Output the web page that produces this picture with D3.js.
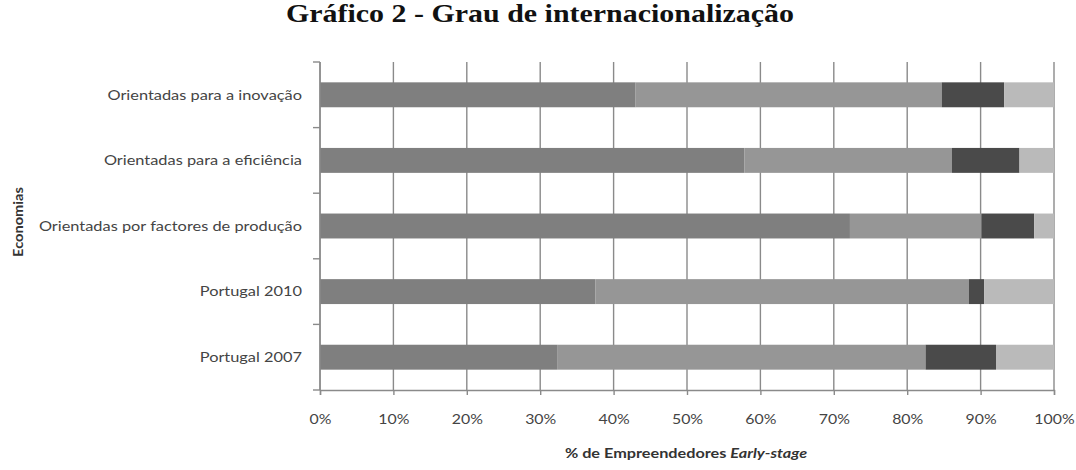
<!DOCTYPE html>
<meta charset="utf-8">
<style>
  body { margin: 0; background: #fff; }
  text { font-family: Lato, "Open Sans", sans-serif; fill: #333; }
</style>
<script src="https://d3js.org/d3.v7.min.js"></script>
<body>
<div id="chart"></div>
<script>

var categories = ["Orientadas para a inovação", "Orientadas para a eficiência",
                  "Orientadas por factores de produção", "Portugal 2010", "Portugal 2007"];

// shares of early-stage entrepreneurs, by degree of internationalisation
var seriesNames = ["s1", "s2", "s3", "s4"];
var s1 = [43.0, 57.8, 72.2, 37.5, 32.3];
var s2 = [41.7, 28.3, 17.9, 50.9, 50.2];
var s3 = [8.5, 9.2, 7.2, 2.1, 9.6];
var s4 = [6.8, 4.7, 2.7, 9.5, 7.9];

var xTicks = [0, 10, 20, 30, 40, 50, 60, 70, 80, 90, 100];

var width = 1076,
    height = 470,
    margin = { top: 62, right: 22, bottom: 80, left: 320 };

// the original text is a bit wider than Lato, stretch it
var stretch = 1.17;

var svg = d3.select("#chart")
  .append("svg")
    .attr("width", width)
    .attr("height", height);

var data = categories.map(function(c, i) {
  return { name: c, s1: s1[i], s2: s2[i], s3: s3[i], s4: s4[i] };
});

var stack = d3.stack().keys(seriesNames);
var layers = stack(data);

var x = d3.scaleLinear()
  .domain([0, 100])
  .range([margin.left, width - margin.right]);

var y = d3.scaleBand()
  .domain(categories)
  .range([margin.top, height - margin.bottom])
  .paddingInner(0.62)
  .paddingOuter(0.31);

var color = d3.scaleOrdinal()
  .domain(seriesNames)
  .range(["#7f7f7f", "#969696", "#4a4a4a", "#bababa"]);

// title
svg.append("text")
  .attr("x", 540)
  .attr("y", 22)
  .attr("text-anchor", "middle")
  .attr("textLength", 508)
  .attr("lengthAdjust", "spacingAndGlyphs")
  .style("font-family", "'Liberation Serif', 'Times New Roman', serif")
  .style("font-weight", "bold")
  .style("font-size", "25px")
  .style("fill", "#111")
  .text("Gráfico 2 - Grau de internacionalização");

// vertical grid lines
svg.append("g")
  .selectAll("line")
  .data(xTicks)
  .enter().append("line")
    .attr("x1", function(d) { return x(d); })
    .attr("x2", function(d) { return x(d); })
    .attr("y1", margin.top)
    .attr("y2", height - margin.bottom)
    .attr("stroke", "#8a8a8a")
    .attr("stroke-width", 1.4);

// bars
svg.append("g")
  .selectAll("g")
  .data(layers)
  .enter().append("g")
    .attr("fill", function(d) { return color(d.key); })
  .selectAll("rect")
  .data(function(d) { return d; })
  .enter().append("rect")
    .attr("x", function(d) { return x(d[0]); })
    .attr("width", function(d) { return x(d[1]) - x(d[0]); })
    .attr("y", function(d) { return y(d.data.name); })
    .attr("height", y.bandwidth());

// x axis
var xAxis = svg.append("g")
  .attr("transform", "translate(0," + (height - margin.bottom) + ")")
  .call(d3.axisBottom(x)
    .tickValues(xTicks)
    .tickSize(5)
    .tickPadding(20)
    .tickFormat(function(d) { return d + "%"; }));

xAxis.select(".domain").attr("stroke", "#8a8a8a").attr("stroke-width", 1.4);
xAxis.selectAll(".tick line").attr("stroke", "#8a8a8a").attr("stroke-width", 1.4);
xAxis.selectAll(".tick text")
  .attr("transform", "scale(" + (stretch + 0.05) + ",1)")
  .style("font-family", "Lato, sans-serif")
  .style("font-size", "13px")
  .style("fill", "#444");

// y axis: line + small ticks at band boundaries
var yAxis = svg.append("g");
yAxis.append("line")
  .attr("x1", x(0)).attr("x2", x(0))
  .attr("y1", margin.top).attr("y2", height - margin.bottom)
  .attr("stroke", "#8a8a8a")
  .attr("stroke-width", 1.4);

var bounds = categories.map(function(c) { return y(c) - y.step() * y.paddingOuter(); });
bounds.push(height - margin.bottom);

yAxis.selectAll(".ytick")
  .data(bounds)
  .enter().append("line")
    .attr("class", "ytick")
    .attr("x1", x(0) - 7).attr("x2", x(0))
    .attr("y1", function(d) { return d; })
    .attr("y2", function(d) { return d; })
    .attr("stroke", "#8a8a8a")
    .attr("stroke-width", 1.4);

yAxis.append("g")
  .attr("transform", "translate(302,0) scale(" + stretch + ",1)")
  .selectAll(".ylabel")
  .data(categories)
  .enter().append("text")
    .attr("class", "ylabel")
    .attr("x", 0)
    .attr("y", function(d) { return y(d) + y.bandwidth() / 2; })
    .attr("dy", "0.35em")
    .attr("text-anchor", "end")
    .style("font-size", "14px")
    .style("fill", "#444")
    .text(function(d) { return d; });

// axis titles
var xt = svg.append("text")
  .attr("transform", "translate(686,458) scale(1.25,1)")
  .attr("text-anchor", "middle")
  .style("font-size", "13px")
  .style("font-weight", "bold")
  .style("fill", "#333");
xt.append("tspan").text("% de Empreendedores ");
xt.append("tspan").style("font-style", "italic").text("Early-stage");

svg.append("text")
  .attr("transform", "translate(23,222) rotate(-90) scale(" + stretch + ",1)")
  .attr("text-anchor", "middle")
  .style("font-size", "12.5px")
  .style("font-weight", "bold")
  .style("fill", "#333")
  .text("Economias");

</script>
</body>
